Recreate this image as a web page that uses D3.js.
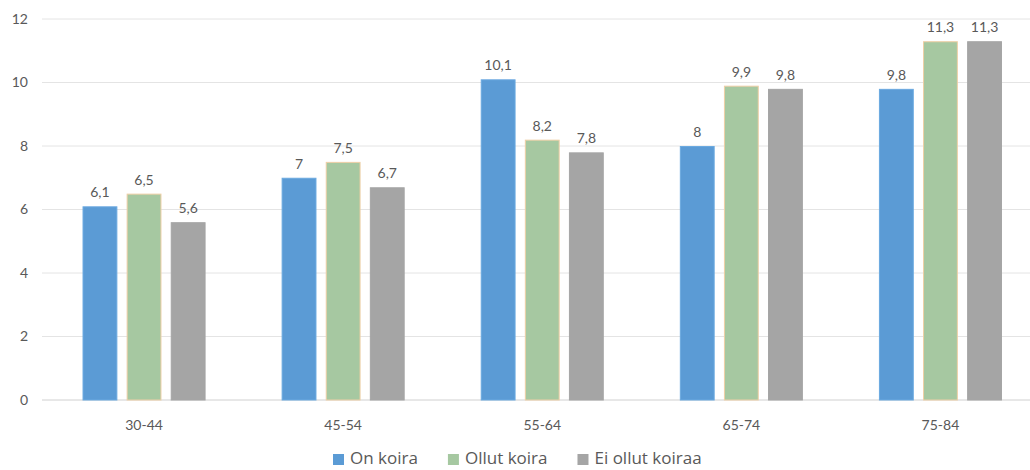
<!DOCTYPE html>
<html>
<head>
<meta charset="utf-8">
<script src="https://cdn.jsdelivr.net/npm/d3@7"></script>
<style>
  body { margin: 0; background: #fff; }
  text { font-family: Lato, "Open Sans", sans-serif; fill: #595959; }
</style>
</head>
<body>
<svg id="chart" width="1030" height="470"></svg>
<script>
const ageGroups = ["30-44", "45-54", "55-64", "65-74", "75-84"]
const seriesNames = ["On koira", "Ollut koira", "Ei ollut koiraa"]
const onKoira = [6.1, 7, 10.1, 8, 9.8]
const ollutKoira = [6.5, 7.5, 8.2, 9.9, 11.3]
const eiOllut = [5.6, 6.7, 7.8, 9.8, 11.3]
const yTicks = [0, 2, 4, 6, 8, 10, 12]

const colours = ["#5B9BD5", "#A6C8A1", "#A5A5A5"]
const strokes = ["#6AA9E0", "#EFCFA6", "#A5A5A5"]
const values = [onKoira, ollutKoira, eiOllut]

const svg = d3.select("#chart")
const plotTop = 19, plotBottom = 400

const y = d3.scaleLinear().domain([0, 12]).range([plotBottom, plotTop])
const x0 = d3.scaleBand().domain(ageGroups).range([44.5, 1040])
  .paddingInner(0.382).paddingOuter(0.191)
const x1 = d3.scaleBand().domain(seriesNames).range([0, x0.bandwidth()])
  .paddingInner(0.21).paddingOuter(0)

const fmt = v => String(v).replace(".", ",")

// gridlines
svg.append("g").selectAll("line")
  .data(yTicks)
  .join("line")
    .attr("x1", 42).attr("x2", 1030)
    .attr("y1", d => y(d)).attr("y2", d => y(d))
    .attr("stroke", d => d === 0 ? "#D0D0D0" : "#E4E4E4")
    .attr("stroke-width", 1)

// y axis labels
const yAxis = svg.append("g").attr("transform", "translate(28,0)")
  .call(d3.axisLeft(y).tickValues(yTicks).tickSize(0).tickPadding(0))
yAxis.select(".domain").remove()
yAxis.selectAll("text").style("font-size", "14px").attr("fill", "#595959")

// x axis labels
const xAxis = svg.append("g").attr("transform", `translate(0,${plotBottom})`)
  .call(d3.axisBottom(x0).tickSize(0).tickPadding(20))
xAxis.select(".domain").remove()
xAxis.selectAll("text").style("font-size", "14px").attr("fill", "#595959")

// bars
const groups = svg.append("g").selectAll("g")
  .data(ageGroups)
  .join("g")
    .attr("transform", d => `translate(${x0(d)},0)`)

const cells = groups.selectAll("g")
  .data((g, gi) => seriesNames.map((s, si) => ({ s: s, si: si, v: values[si][gi] })))
  .join("g")

cells.append("rect")
  .attr("x", d => x1(d.s) + 0.5)
  .attr("y", d => y(d.v) + 0.5)
  .attr("width", x1.bandwidth() - 1)
  .attr("height", d => y(0) - y(d.v) - 0.5)
  .attr("fill", d => colours[d.si])
  .attr("stroke", d => strokes[d.si])
  .attr("stroke-width", 1)

cells.append("text")
  .attr("x", d => x1(d.s) + x1.bandwidth() / 2)
  .attr("y", d => y(d.v) - 9)
  .attr("text-anchor", "middle")
  .style("font-size", "14px")
  .text(d => fmt(d.v))

// legend
const legend = svg.append("g").attr("transform", "translate(0,459)")
let lx = 333
seriesNames.forEach((s, i) => {
  const item = legend.append("g").attr("transform", `translate(${lx},0)`)
  item.append("rect").attr("x", 0).attr("y", -5).attr("width", 11).attr("height", 11)
    .attr("fill", colours[i])
  const t = item.append("text").attr("x", 17).attr("y", 5)
    .style("font-family", "'Open Sans', sans-serif")
    .style("font-size", "17px").text(s)
  lx += 17 + t.node().getComputedTextLength() + 30
})
</script>
</body>
</html>
